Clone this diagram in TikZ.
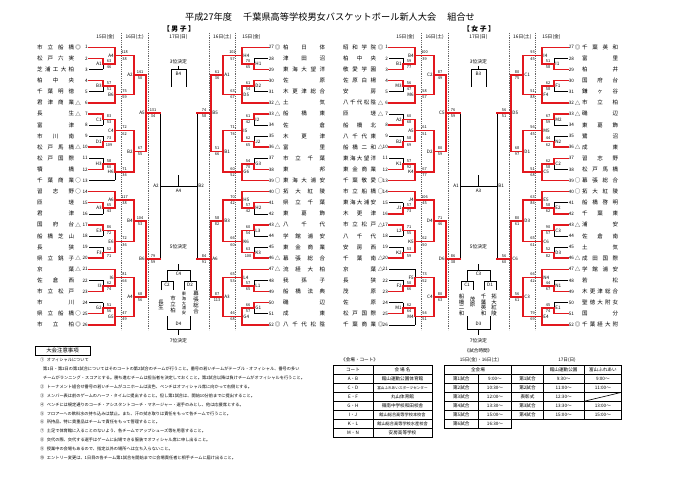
\documentclass[tikz,border=0pt]{standalone}
\usepackage{fontspec}
\setmainfont{Noto Sans CJK JP}
\definecolor{wr}{RGB}{226,24,30}
\makeatletter
\def\spr#1{\spr@a#1\spr@end}
\def\spr@end{\spr@end}
\def\spr@a#1{#1\spr@b}
\def\spr@b#1{\ifx#1\spr@end\else\hfill#1\expandafter\spr@b\fi}
\makeatother
\tikzset{
 ln/.style={draw=black,line width=0.45pt},
 rd/.style={draw=wr,line width=1.55pt,line cap=rect},
 dl/.style={draw=black!60,line width=0.6pt,dash pattern=on 0.9pt off 0.9pt},
 lab/.style={font=\fontsize{4.6}{5}\selectfont,inner sep=0pt},
 sco/.style={font=\fontsize{3.9}{6.2}\selectfont,inner sep=0pt,align=center},
 nm/.style={font=\fontsize{5.5}{6}\selectfont,inner sep=0pt},
 num/.style={font=\fontsize{4.6}{5}\selectfont,inner sep=0pt},
 hd/.style={font=\fontsize{4.8}{5}\selectfont,inner sep=0pt},
 nt/.style={font=\fontsize{4.2}{5}\selectfont,inner sep=0pt,anchor=west},
 tb/.style={font=\fontsize{4.6}{5}\selectfont,inner sep=0pt},
 tbs/.style={font=\fontsize{3.6}{4}\selectfont,inner sep=0pt},
 tbm/.style={font=\fontsize{4.2}{5}\selectfont,inner sep=0pt},
 vt/.style={font=\fontsize{5.4}{5.8}\selectfont,inner sep=0pt,align=center},
 vts/.style={font=\fontsize{4.2}{4.6}\selectfont,inner sep=0pt,align=center},
 tl/.style={draw=black,line width=0.6pt},
}
\newcommand\setL[1]{\def\bx{#1}\def\sg{1}\def\lanc{east}}
\newcommand\setR[1]{\def\bx{#1}\def\sg{-1}\def\lanc{west}}
\newcommand\RY[1]{(47.3+11.1*((#1)-1))}
\newcommand\PX[1]{(\bx+(\sg)*(#1))}
\newcommand\setw[2]{\ifnum#2=1 \tikzset{#1/.style={rd}}\else\tikzset{#1/.style={ln}}\fi}
\newcommand\tln[3]{\draw[#3] ({\PX{89}},{\RY{#1}}) -- ({\PX{#2}},{\RY{#1}});}
\newcommand\mt[8]{%
 \pgfmathsetmacro\ym{((#3)+(#4))/2}%
 \draw[#5] ({\PX{#1}},{#3}) -- ({\PX{#1}},{\ym});%
 \draw[#6] ({\PX{#1}},{\ym}) -- ({\PX{#1}},{#4});%
 \draw[rd] ({\PX{#1}},{\ym}) -- ({\PX{#2}},{\ym});%
 \node[lab,anchor=\lanc] at ({\PX{#1}-(\sg)*1.2},{\ym}) {#7};%
 \node[sco] at ({\PX{((#1)+(#2))/2}},{\ym}) {#8};}
\newcommand\bT[7]{%
 \setw{sA}{#2}%
 \ifnum#3=1 \setw{sB}{1}\setw{sC}{0}\else\setw{sB}{0}\setw{sC}{1}\fi
 \tln{#1}{115}{sA}\tln{#1+1}{103}{sB}\tln{#1+2}{103}{sC}%
 \mt{103}{115}{\RY{#1+1}}{\RY{#1+2}}{sB}{sC}{#4}{#5}%
 \mt{115}{134}{\RY{#1}}{(\RY{#1+1}+\RY{#1+2})/2}{sA}{rd}{#6}{#7}}
\newcommand\bB[7]{%
 \ifnum#2=1 \setw{sB}{1}\setw{sC}{0}\else\setw{sB}{0}\setw{sC}{1}\fi
 \setw{sA}{#3}%
 \tln{#1}{103}{sB}\tln{#1+1}{103}{sC}\tln{#1+2}{115}{sA}%
 \mt{103}{115}{\RY{#1}}{\RY{#1+1}}{sB}{sC}{#4}{#5}%
 \mt{115}{134}{(\RY{#1}+\RY{#1+1})/2}{\RY{#1+2}}{rd}{sA}{#6}{#7}}
\newcommand\bF[9]{%
 \ifnum#2=1 \setw{sB}{1}\setw{sC}{0}\else\setw{sB}{0}\setw{sC}{1}\fi
 \ifnum#3=1 \setw{sD}{1}\setw{sE}{0}\else\setw{sD}{0}\setw{sE}{1}\fi
 \tln{#1}{103}{sB}\tln{#1+1}{103}{sC}\tln{#1+2}{103}{sD}\tln{#1+3}{103}{sE}%
 \mt{103}{115}{\RY{#1}}{\RY{#1+1}}{sB}{sC}{#4}{#5}%
 \mt{103}{115}{\RY{#1+2}}{\RY{#1+3}}{sD}{sE}{#6}{#7}%
 \mt{115}{134}{(\RY{#1}+\RY{#1+1})/2}{(\RY{#1+2}+\RY{#1+3})/2}{rd}{rd}{#8}{#9}}
\newcommand\rsa[8]{%
 \mt{134}{146}{55.625}{94.475}{rd}{rd}{#1}{#2}%
 \mt{134}{146}{130.55}{172.175}{rd}{rd}{#3}{#4}%
 \mt{134}{146}{199.925}{241.55}{rd}{rd}{#5}{#6}%
 \mt{134}{146}{277.625}{316.475}{rd}{rd}{#7}{#8}}
\newcommand\qf[4]{%
 \mt{146}{160}{75.05}{151.3625}{rd}{rd}{#1}{#2}%
 \mt{146}{160}{220.7375}{297.05}{rd}{rd}{#3}{#4}}
\newcommand\nmset[5]{\def\numx{#1}\def\numanc{#2}\def\mkx{#3}\def\nmx{#4}\def\nmw{#5}}
\newcommand\tmm[4]{%
 \node[num,anchor=\numanc] at (\numx,{\RY{#1}}) {#2};%
 \node[nm] at (\mkx,{\RY{#1}}) {#4};%
 \node[nm,anchor=west] at (\nmx,{\RY{#1}}) {\hbox to \nmw pt{\spr{#3}}};}
\newcommand\ctrgeo[8]{%
 \draw[ln] (160,113.2) -- (160,258.9);
 \draw[ln] (197,113.2) -- (197,258.9);
 \draw[ln] (160,186.05) -- (197,186.05);
 \draw[ln] (178.5,175.5) -- (178.5,186.05);
 \node[lab,anchor=east] at (158.8,186.05) {#1};
 \node[lab,anchor=west] at (198.2,186.05) {#2};
 \node[lab] at (178.5,190.5) {#3};
 \node[hd] at (178.5,61.5) {3位決定};
 \draw[ln] (178.5,66) -- (178.5,69.5);
 \draw[ln] (171,87) -- (171,69.5) -- (186,69.5) -- (186,87);
 \node[lab] at (178.5,74) {#4};
 \node[hd] at (178.5,247) {5位決定};
 \draw[ln] (178.5,264) -- (178.5,270);
 \draw[ln] (167,281) -- (167,270) -- (190,270) -- (190,281);
 \node[lab] at (178.5,274) {#5};
 \draw[ln] (161,290) -- (161,281) -- (173,281) -- (173,290);
 \node[lab] at (167,285) {#6};
 \draw[ln] (184,290) -- (184,281) -- (196,281) -- (196,290);
 \node[lab] at (190,285) {#7};
 \draw[ln] (167,316) -- (167,329) -- (190,329) -- (190,316);
 \draw[ln] (178.5,329) -- (178.5,335);
 \node[lab] at (178.5,324) {#8};
 \node[hd] at (178.5,340.5) {7位決定};
 \foreach \xx in {121.5,148,209,235.5} \draw[dl] (\xx,33) -- (\xx,330);
 \node[hd] at (105.5,37) {15日(金)};
 \node[hd] at (134.7,37) {16日(土)};
 \node[hd] at (178.5,37) {17日(日)};
 \node[hd] at (222.3,37) {16日(土)};
 \node[hd] at (251.5,37) {15日(金)};
}
\begin{document}
\begin{tikzpicture}[x=1pt,y=-1pt]
\fill[white] (0,0) rectangle (680,481);
\useasboundingbox (0,0) rectangle (680,481);
\node[font=\fontsize{9.2}{10}\selectfont,inner sep=0pt] (title) at (330,17) {平成27年度\hspace{1.2em}千葉県高等学校男女バスケットボール新人大会\hspace{1.2em}組合せ};
\node[font=\fontsize{6.8}{7}\selectfont\bfseries,inner sep=0pt] (men) at (179,29) {【\ 男\ 子\ 】};
\node[font=\fontsize{6.8}{7}\selectfont\bfseries,inner sep=0pt] (women) at (479,29) {【\ 女\ 子\ 】};
% ===== men =====
\ctrgeo{A2}{B2}{A4}{B4}{C4}{C2}{D2}{D4}
\node[vt] at (161,305) {長\\生};
\node[vt] at (173,304.5) {市\\立\\柏};
\node[vts] at (184,303.5) {東\\海\\大\\浦\\安};
\node[vt] at (196,302.5) {幕\\張\\総\\合};
\setL{0}
\bT{1}{1}{1}{A1}{63\\46}{A4}{118\\38}
\bB{4}{1}{1}{B3}{57\\51}{B6}{75\\59}
\bF{7}{1}{2}{C1}{83\\53}{D1}{73\\109}{C4}{72\\62}
\bB{11}{2}{0}{H3}{58\\60}{H6}{71\\34}
\bT{14}{1}{1}{A3}{65\\43}{A6}{117\\38}
\bF{17}{1}{2}{E3}{86\\72}{F3}{52\\71}{E6}{72\\36}
\bT{21}{1}{2}{I3}{62\\74}{I6}{81\\64}
\bB{24}{2}{1}{G2}{51\\56}{G5}{47\\49}
\rsa{A2}{141\\50}{B2}{67\\55}{B4}{104\\53}{A4}{68\\56}
\qf{A5}{131\\34}{B6}{79\\59}
\setR{357}
\bT{1}{1}{2}{H1}{70\\65}{H4}{102\\57}
\bB{4}{1}{1}{D2}{61\\54}{D5}{63\\67}
\bF{7}{1}{2}{I2}{61\\42}{J2}{62\\65}{I5}{71\\74}
\bB{11}{2}{1}{G3}{54\\70}{G6}{60\\52}
\bT{14}{1}{1}{H2}{57\\42}{H5}{70\\42}
\bF{17}{1}{2}{L3}{60\\54}{K3}{63\\100}{K6}{66\\60}
\bT{21}{1}{2}{L1}{57\\65}{L4}{65\\53}
\bB{24}{1}{1}{G1}{66\\57}{G4}{46\\68}
\rsa{A1}{61\\36}{B1}{51\\66}{B3}{58\\82}{A3}{87\\113}
\qf{B5}{74\\58}{A6}{84\\91}
\nmset{88}{east}{78}{37}{37}
\tmm{1}{1}{市立船橋}{◎}
\tmm{2}{2}{松戸六実}{}
\tmm{3}{3}{芝浦工大柏}{}
\tmm{4}{4}{柏中央}{}
\tmm{5}{5}{千葉明徳}{}
\tmm{6}{6}{君津商業}{△}
\tmm{7}{7}{長生}{△}
\tmm{8}{8}{富津}{}
\tmm{9}{9}{市川南}{}
\tmm{10}{10}{松戸馬橋}{△}
\tmm{11}{11}{松戸国際}{}
\tmm{12}{12}{犢橋}{}
\tmm{13}{13}{千葉商業}{○}
\tmm{14}{14}{習志野}{○}
\tmm{15}{15}{匝瑳}{}
\tmm{16}{16}{君津}{}
\tmm{17}{17}{国府台}{△}
\tmm{18}{18}{船橋芝山}{}
\tmm{19}{19}{長狭}{}
\tmm{20}{20}{県立銚子}{△}
\tmm{21}{21}{京葉}{△}
\tmm{22}{22}{佐倉西}{}
\tmm{23}{23}{市立松戸}{}
\tmm{24}{24}{市川}{}
\tmm{25}{25}{県立船橋}{○}
\tmm{26}{26}{市立柏}{◎}
\nmset{268.7}{west}{277.5}{283}{42}
\tmm{1}{27}{柏日体}{◎}
\tmm{2}{28}{津田沼}{}
\tmm{3}{29}{東海大望洋}{}
\tmm{4}{30}{佐原}{}
\tmm{5}{31}{木更津総合}{}
\tmm{6}{32}{土気}{△}
\tmm{7}{33}{船橋東}{△}
\tmm{8}{34}{佐倉}{}
\tmm{9}{35}{木更津}{}
\tmm{10}{36}{富里}{△}
\tmm{11}{37}{市立千葉}{}
\tmm{12}{38}{東邦}{}
\tmm{13}{39}{東海大浦安}{○}
\tmm{14}{40}{拓大紅陵}{○}
\tmm{15}{41}{県立千葉}{}
\tmm{16}{42}{東葛飾}{}
\tmm{17}{43}{八千代}{△}
\tmm{18}{44}{学館浦安}{}
\tmm{19}{45}{東金商業}{}
\tmm{20}{46}{幕張総合}{△}
\tmm{21}{47}{流経大柏}{△}
\tmm{22}{48}{我孫子}{}
\tmm{23}{49}{船橋法典}{}
\tmm{24}{50}{磯辺}{}
\tmm{25}{51}{成東}{}
\tmm{26}{52}{八千代松陰}{◎}
% ===== women =====
\begin{scope}[xshift=300pt]
\ctrgeo{A1}{B1}{A3}{B3}{C3}{C1}{D1}{D3}
\node[vt] at (161.5,305) {船\\橋\\二\\和};
\node[vt] at (172.5,302) {茂\\原};
\node[vt] at (183.5,305) {千\\葉\\英\\和};
\node[vt] at (194,305) {拓\\大\\紅\\陵};
\end{scope}
\setL{300}
\bT{1}{1}{2}{B1}{59\\77}{B4}{100\\39}
\bB{4}{1}{1}{M3}{56\\47}{M6}{58\\57}
\bF{7}{2}{2}{A2}{60\\68}{B2}{58\\69}{A5}{61\\51}
\bB{11}{2}{1}{K1}{57\\92}{K4}{67\\77}
\bT{14}{1}{2}{J1}{57\\73}{J4}{106\\45}
\bF{17}{1}{2}{L2}{71\\55}{K2}{53\\59}{K5}{62\\50}
\bT{21}{0}{2}{F2}{50\\66}{F5}{73\\52}
\bB{24}{2}{0}{M1}{62\\64}{M4}{54\\51}
\rsa{C2}{87\\49}{D2}{80\\59}{D4}{71\\46}{C4}{80\\63}
\qf{C5}{76\\59}{D6}{86\\38}
\setR{657}
\bT{1}{1}{2}{I1}{51\\58}{I4}{93\\45}
\bB{4}{1}{1}{F1}{62\\58}{F4}{51\\88}
\bF{7}{1}{2}{M2}{67\\59}{N2}{44\\62}{M5}{56\\45}
\bB{11}{1}{1}{C2}{62\\58}{C5}{51\\68}
\bT{14}{1}{2}{E2}{58\\62}{E5}{63\\84}
\bF{17}{1}{2}{C3}{90\\57}{D3}{52\\82}{C6}{65\\61}
\bT{21}{1}{2}{N1}{44\\67}{N4}{66\\42}
\bB{24}{2}{1}{E1}{45\\74}{E4}{79\\69}
\rsa{C1}{80\\75}{D1}{68\\97}{D3}{80\\61}{C3}{56\\61}
\qf{D5}{56\\51}{C6}{56\\60}
\nmset{388}{east}{380.5}{343}{33}
\tmm{1}{1}{昭和学院}{◎}
\tmm{2}{2}{柏中央}{}
\tmm{3}{3}{敬愛学園}{}
\tmm{4}{4}{佐原白楊}{}
\tmm{5}{5}{安房}{}
\tmm{6}{6}{八千代松陰}{△}
\tmm{7}{7}{匝瑳}{△}
\tmm{8}{8}{船橋北}{}
\tmm{9}{9}{八千代東}{}
\tmm{10}{10}{船橋二和}{△}
\tmm{11}{11}{東海大望洋}{}
\tmm{12}{12}{東金商業}{}
\tmm{13}{13}{千葉敬愛}{○}
\tmm{14}{14}{市立船橋}{○}
\tmm{15}{15}{東海大浦安}{}
\tmm{16}{16}{木更津}{}
\tmm{17}{17}{市立松戸}{△}
\tmm{18}{18}{八千代}{}
\tmm{19}{19}{安房西}{}
\tmm{20}{20}{千葉南}{△}
\tmm{21}{21}{京葉}{△}
\tmm{22}{22}{長狭}{}
\tmm{23}{23}{茂原}{}
\tmm{24}{24}{佐原}{}
\tmm{25}{25}{松戸国際}{}
\tmm{26}{26}{千葉商業}{◎}
\nmset{568.7}{west}{577.5}{582}{36}
\tmm{1}{27}{千葉英和}{◎}
\tmm{2}{28}{富里}{}
\tmm{3}{29}{柏井}{}
\tmm{4}{30}{国府台}{}
\tmm{5}{31}{鎌ヶ谷}{}
\tmm{6}{32}{市立柏}{△}
\tmm{7}{33}{磯辺}{△}
\tmm{8}{34}{東葛飾}{}
\tmm{9}{35}{鷺沼}{}
\tmm{10}{36}{成東}{△}
\tmm{11}{37}{習志野}{}
\tmm{12}{38}{松戸馬橋}{}
\tmm{13}{39}{幕張総合}{○}
\tmm{14}{40}{拓大紅陵}{○}
\tmm{15}{41}{船橋啓明}{}
\tmm{16}{42}{千葉東}{}
\tmm{17}{43}{浦安}{△}
\tmm{18}{44}{佐倉南}{}
\tmm{19}{45}{土気}{}
\tmm{20}{46}{成田国際}{△}
\tmm{21}{47}{学館浦安}{△}
\tmm{22}{48}{若松}{}
\tmm{23}{49}{木更津総合}{}
\tmm{24}{50}{聖徳大附女}{}
\tmm{25}{51}{国分}{}
\tmm{26}{52}{千葉経大附}{◎}
% ===== notes =====
\draw[tl] (35,346) rectangle (90,355.5);
\node[font=\fontsize{5.4}{6}\selectfont,inner sep=0pt] (notehd) at (62.5,350.8) {大会注意事項};
\node[nt] at (40,360) {①\hspace{0.6em}オフィシャルについて};
\node[nt] at (43,368.9) {第1日・第2日の第1試合についてはそのコートの第2試合のチームが行うこと。番号の若いチームがテーブル・オフィシャル、番号の多い};
\node[nt] at (43,377.8) {チームがランニング・スコアとする。勝ち進むチームは担当者を決定しておくこと。第2試合以降は負けチームがオフィシャルを行うこと。};
\node[nt] at (40,386.7) {②\hspace{0.6em}トーナメント組合せ番号の若いチームがユニホームは淡色、ベンチはオフィシャル席に向かって右側とする。};
\node[nt] at (40,395.6) {③\hspace{0.6em}メンバー表は前のゲームのハーフ・タイムに提出すること。但し第1試合は、開始10分前までに提出すること。};
\node[nt] at (40,404.5) {④\hspace{0.6em}ベンチには規定通りのコーチ・アシスタントコーチ・マネージャー・選手のみとし、他は応援席とする。};
\node[nt] at (40,413.4) {⑤\hspace{0.6em}フロアーへの飲料水の持ち込みは禁止。また、汗の拭き取りは責任をもって各チームで行うこと。};
\node[nt] at (40,422.3) {⑥\hspace{0.6em}所持品、特に貴重品はチームで責任をもって管理すること。};
\node[nt] at (40,431.2) {⑦\hspace{0.6em}土足で体育館に入ることのないよう、各チームでアップシューズ等を用意すること。};
\node[nt] at (40,440.1) {⑧\hspace{0.6em}交代の際、交代する選手はゲームに出場できる服装でオフィシャル席に申し出ること。};
\node[nt] at (40,449) {⑨\hspace{0.6em}授業中の会場もあるので、指定以外の場所へは立ち入らないこと。};
\node[nt] at (40,457.9) {⑩\hspace{0.6em}エントリー変更は、1日目の各チーム第1試合を開始までに会場責任者と相手チームに届け出ること。};
% ===== venue table =====
\node[tb,anchor=west] (venhd) at (341,360) {《会場・コート》};
\draw[tl] (333,365.3) rectangle (432,437.3);
\foreach \i in {1,...,7} \draw[tl] (333,{365.3+9*\i}) -- (432,{365.3+9*\i});
\draw[tl] (373,365.3) -- (373,437.3);
\node[tb] at (353,369.8) {コート};
\node[tb] at (402.5,369.8) {会\ 場\ 名};
\node[tb] at (353,378.8) {A・B};
\node[tb] at (402.5,378.8) {館山運動公園体育館};
\node[tb] at (353,387.8) {C・D};
\node[tbs] at (402.5,387.8) {富山ふれあいスポーツセンター};
\node[tb] at (353,396.8) {E・F};
\node[tb] at (402.5,396.8) {丸山体育館};
\node[tb] at (353,405.8) {G・H};
\node[tb] at (402.5,405.8) {嶺南中学校和田校舎};
\node[tb] at (353,414.8) {I・J};
\node[tbm] at (402.5,414.8) {館山総合高等学校本校舎};
\node[tb] at (353,423.8) {K・L};
\node[tbm] at (402.5,423.8) {館山総合高等学校水産校舎};
\node[tb] at (353,432.8) {M・N};
\node[tb] at (402.5,432.8) {安房高等学校};
% ===== time table =====
\node[tb] (timehd) at (478.5,351) {《試合時間》};
\node[tb] at (479.5,360) {15日(金)・16日(土)};
\node[tb] at (567,360) {17日(日)};
\draw[tl] (444.3,365.3) rectangle (511.7,428.3);
\foreach \i in {1,...,6} \draw[tl] (444.3,{365.3+9*\i}) -- (511.7,{365.3+9*\i});
\draw[tl] (478.3,374.3) -- (478.3,428.3);
\node[tb] at (478,369.8) {全会場};
\foreach \t/\h [count=\k] in {第1試合/9:00～,第2試合/10:30～,第3試合/12:00～,第4試合/13:30～,第5試合/15:00～,第6試合/16:30～}{
 \node[tb] at (461.3,{369.8+9*\k}) {\t};
 \node[tb] at (495,{369.8+9*\k}) {\h};}
\draw[tl] (511.7,365.3) rectangle (621.7,419.3);
\foreach \i in {1,...,5} \draw[tl] (511.7,{365.3+9*\i}) -- (621.7,{365.3+9*\i});
\draw[tl] (543.3,365.3) -- (543.3,419.3);
\draw[tl] (584,365.3) -- (584,419.3);
\draw[tl] (584,401.3) -- (621.7,392.3);
\node[tb] at (563.65,369.8) {館山運動公園};
\node[tb] at (602.85,369.8) {富山ふれあい};
\foreach \t/\a [count=\k] in {第1試合/9:30～,第2試合/11:00～,表彰式/12:30～,第3試合/13:30～,第4試合/15:00～}{
 \node[tb] at (527.5,{369.8+9*\k}) {\t};
 \node[tb] at (563.65,{369.8+9*\k}) {\a};}
\node[tb] at (602.85,378.8) {9:00～};
\node[tb] at (602.85,387.8) {11:00～};
\node[tb] at (602.85,405.8) {13:00～};
\node[tb] at (602.85,414.8) {15:00～};
\end{tikzpicture}
\end{document}
